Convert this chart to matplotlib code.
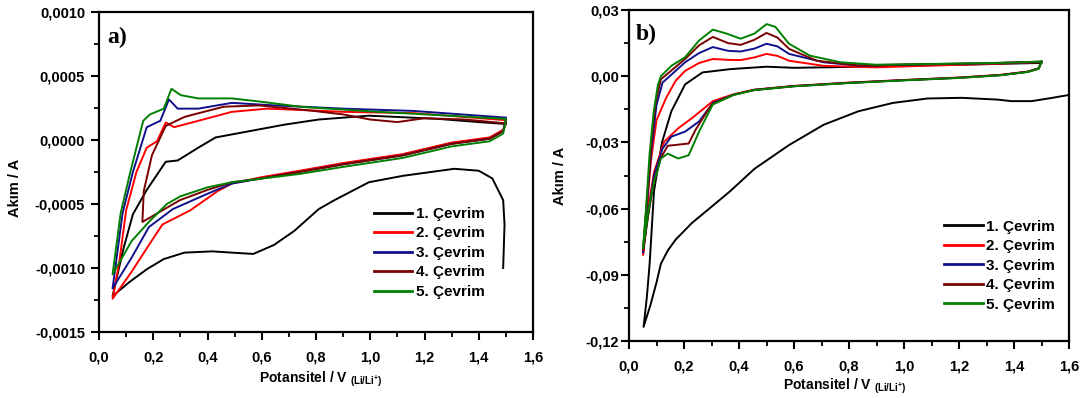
import matplotlib
matplotlib.use("Agg")
import matplotlib.pyplot as plt
from matplotlib.ticker import MultipleLocator, FuncFormatter

plt.rcParams['font.family'] = ['Liberation Sans', 'DejaVu Sans']
plt.rcParams['font.weight'] = 'bold'
plt.rcParams['mathtext.fontset'] = 'custom'
plt.rcParams['mathtext.rm'] = 'Liberation Sans:bold'
plt.rcParams['mathtext.bf'] = 'Liberation Sans:bold'
plt.rcParams['mathtext.default'] = 'rm'

labels = ["1. Çevrim", "2. Çevrim", "3. Çevrim", "4. Çevrim", "5. Çevrim"]
colors = ["#000000", "#ff0000", "#10108c", "#7a0000", "#008000"]

# ---------------- Panel a data (V, A) ----------------
a1_v = [1.49, 1.495, 1.49, 1.45, 1.40, 1.31, 1.12, 0.995, 0.868, 0.81, 0.72, 0.645, 0.569, 0.49,
        0.417, 0.315, 0.239, 0.176, 0.112, 0.05, 0.09, 0.125, 0.176, 0.246, 0.29, 0.366, 0.43,
        0.557, 0.684, 0.81, 0.995, 1.1, 1.25, 1.4, 1.5]
a1_i = [-0.00100, -0.00066, -0.00047, -0.00030, -0.00024, -0.000225, -0.00028, -0.00033, -0.00047,
        -0.00054, -0.00071, -0.00082, -0.00089, -0.00088, -0.00087, -0.00088, -0.00093, -0.00101,
        -0.00111, -0.00122, -0.00085, -0.00058, -0.00039, -0.00017, -0.00016, -0.00006, 0.00002,
        0.00007, 0.00012, 0.00016, 0.00019, 0.00018, 0.000165, 0.00014, 0.000125]

a2_v = [1.5, 1.49, 1.44, 1.3, 1.12, 0.9, 0.74, 0.6, 0.49, 0.437, 0.336, 0.234, 0.184, 0.12, 0.05,
        0.075, 0.1, 0.138, 0.176, 0.214, 0.246, 0.277, 0.366, 0.49, 0.62, 0.75, 0.9, 1.16, 1.5]
a2_i = [0.00015, 0.00008, 0.00002, -0.00002, -0.00011, -0.00018, -0.00024, -0.00029, -0.00034,
        -0.00040, -0.00055, -0.00066, -0.00082, -0.00103, -0.00124, -0.00095, -0.00055, -0.00025,
        -0.00006, -0.00001, 0.000137, 0.00010, 0.00015, 0.00022, 0.000245, 0.000234, 0.00022,
        0.00021, 0.000155]

a3_v = [1.5, 1.49, 1.44, 1.3, 1.12, 0.9, 0.74, 0.6, 0.49, 0.4, 0.272, 0.184, 0.12, 0.05,
        0.087, 0.125, 0.176, 0.226, 0.258, 0.29, 0.366, 0.49, 0.65, 0.9, 1.16, 1.5]
a3_i = [0.00016, 0.00007, 0.00001, -0.00003, -0.00012, -0.00019, -0.00025, -0.00030, -0.00034,
        -0.00042, -0.00054, -0.00068, -0.00092, -0.00116, -0.00057, -0.00025, 0.00010, 0.00015,
        0.000317, 0.000245, 0.000245, 0.00029, 0.00027, 0.000245, 0.000227, 0.000175]

a4_v = [1.5, 1.35, 1.2, 1.1, 1.0, 0.9, 0.78, 0.59, 0.46, 0.35, 0.315, 0.246, 0.195, 0.165, 0.16,
        0.209, 0.298, 0.4, 0.49, 0.6, 0.74, 0.9, 1.12, 1.3, 1.44, 1.49, 1.5]
a4_i = [0.00013, 0.00016, 0.00017, 0.00014, 0.00016, 0.00020, 0.00023, 0.00027, 0.00026, 0.00020,
        0.00018, 0.00011, -0.00012, -0.00040, -0.00064, -0.00058, -0.00047, -0.00039, -0.00033,
        -0.00030, -0.00025, -0.00019, -0.00012, -0.00003, 0.00001, 0.00007, 0.00013]

a5_v = [1.5, 1.49, 1.44, 1.3, 1.12, 0.9, 0.74, 0.49, 0.40, 0.30, 0.25, 0.184, 0.12, 0.05,
        0.08, 0.112, 0.163, 0.188, 0.239, 0.267, 0.302, 0.366, 0.49, 0.594, 0.75, 1.03, 1.29, 1.5]
a5_i = [0.00016, 0.00005, -0.00001, -0.00005, -0.00014, -0.00021, -0.000265, -0.00033, -0.00037,
        -0.00044, -0.00050, -0.00064, -0.00079, -0.00105, -0.00057, -0.00028, 0.00015, 0.00020,
        0.000245, 0.00040, 0.00035, 0.000325, 0.000325, 0.00030, 0.000258, 0.00022, 0.00019,
        0.000165]

# ---------------- Panel b data (V, A) ----------------
b1_v = [1.6, 1.53, 1.464, 1.39, 1.34, 1.21, 1.086, 0.96, 0.834, 0.708, 0.582, 0.456, 0.368, 0.292,
        0.229, 0.17, 0.141, 0.116, 0.1, 0.078, 0.053, 0.065, 0.075, 0.091, 0.12, 0.154, 0.204,
        0.267, 0.368, 0.5, 0.6, 0.8, 1.0, 1.2, 1.5]
b1_i = [-0.0085, -0.0100, -0.0113, -0.0113, -0.0106, -0.0098, -0.0101, -0.0121, -0.0159, -0.0220,
        -0.0312, -0.0420, -0.0521, -0.0600, -0.0665, -0.0740, -0.0790, -0.0850, -0.0935, -0.1037,
        -0.1136, -0.1000, -0.0850, -0.0520, -0.0300, -0.0159, -0.0037, 0.0017, 0.0032, 0.0043,
        0.0038, 0.0042, 0.0048, 0.0052, 0.0060]

b2_v = [1.5, 1.49, 1.45, 1.35, 1.2, 1.0, 0.8, 0.6, 0.456, 0.38, 0.305, 0.229, 0.179, 0.128, 0.091,
        0.07, 0.051, 0.065, 0.08, 0.1, 0.135, 0.17, 0.204, 0.255, 0.305, 0.36, 0.406, 0.456, 0.5,
        0.54, 0.582, 0.708, 0.897, 1.1, 1.3, 1.5]
b2_i = [0.0066, 0.0036, 0.0021, 0.0006, -0.0006, -0.0017, -0.0029, -0.0044, -0.0061, -0.0082,
        -0.0113, -0.0190, -0.0236, -0.0297, -0.0435, -0.0600, -0.0810, -0.0600, -0.0380, -0.0200,
        -0.0098, -0.0020, 0.0024, 0.0060, 0.0078, 0.0074, 0.0073, 0.0085, 0.0101, 0.0092, 0.0070,
        0.0047, 0.0040, 0.0048, 0.0055, 0.0064]

b3_v = [1.5, 1.49, 1.45, 1.35, 1.2, 1.0, 0.8, 0.6, 0.456, 0.38, 0.305, 0.255, 0.204, 0.154, 0.122,
        0.091, 0.07, 0.051, 0.065, 0.08, 0.1, 0.122, 0.204, 0.255, 0.305, 0.36, 0.406, 0.456, 0.5,
        0.54, 0.582, 0.708, 0.834, 1.0, 1.3, 1.5]
b3_i = [0.0066, 0.0035, 0.0020, 0.0005, -0.0007, -0.0018, -0.0030, -0.0045, -0.0062, -0.0084,
        -0.0121, -0.0205, -0.0251, -0.0274, -0.0328, -0.0450, -0.0620, -0.0800, -0.0580, -0.0350,
        -0.0130, -0.0029, 0.0063, 0.0105, 0.0132, 0.0115, 0.0112, 0.0125, 0.0147, 0.0135, 0.0101,
        0.0063, 0.0048, 0.0052, 0.0058, 0.0065]

b4_v = [1.5, 1.49, 1.45, 1.35, 1.2, 1.0, 0.8, 0.6, 0.456, 0.38, 0.305, 0.292, 0.242, 0.217, 0.166,
        0.141, 0.116, 0.09, 0.07, 0.051, 0.064, 0.078, 0.095, 0.116, 0.204, 0.255, 0.305, 0.36,
        0.406, 0.456, 0.5, 0.54, 0.582, 0.683, 0.834, 1.0, 1.3, 1.5]
b4_i = [0.0066, 0.0035, 0.0020, 0.0005, -0.0007, -0.0018, -0.0030, -0.0045, -0.0062, -0.0084,
        -0.0125, -0.0144, -0.0243, -0.0305, -0.0312, -0.0315, -0.0370, -0.0480, -0.0630, -0.0790,
        -0.0580, -0.0350, -0.0130, -0.0014, 0.0078, 0.0140, 0.0178, 0.0150, 0.0142, 0.0165,
        0.0196, 0.0175, 0.0124, 0.0070, 0.0049, 0.0053, 0.0059, 0.0066]

b5_v = [1.5, 1.49, 1.45, 1.35, 1.2, 1.0, 0.8, 0.6, 0.456, 0.38, 0.305, 0.292, 0.255, 0.217, 0.179,
        0.141, 0.116, 0.091, 0.072, 0.051, 0.062, 0.075, 0.09, 0.105, 0.116, 0.154, 0.204, 0.255,
        0.305, 0.355, 0.406, 0.456, 0.5, 0.532, 0.582, 0.658, 0.77, 0.897, 1.086, 1.34, 1.5]
b5_i = [0.0066, 0.0034, 0.0019, 0.0004, -0.0008, -0.0019, -0.0031, -0.0046, -0.0063, -0.0085,
        -0.0128, -0.0159, -0.0251, -0.0358, -0.0373, -0.0351, -0.0373, -0.0480, -0.0600, -0.0780,
        -0.0600, -0.0350, -0.0160, -0.0040, 0.0000, 0.0047, 0.0086, 0.0162, 0.0211, 0.0193,
        0.0170, 0.0193, 0.0236, 0.0224, 0.0147, 0.0093, 0.0063, 0.0052, 0.0055, 0.0060, 0.0066]

panel_a = [(a1_v, a1_i), (a2_v, a2_i), (a3_v, a3_i), (a4_v, a4_i), (a5_v, a5_i)]
panel_b = [(b1_v, b1_i), (b2_v, b2_i), (b3_v, b3_i), (b4_v, b4_i), (b5_v, b5_i)]

fig = plt.figure(figsize=(10.89, 3.98), dpi=100)
ax_a = fig.add_axes([99 / 1089, 1 - 332 / 398, 434 / 1089, 320 / 398])
ax_b = fig.add_axes([629 / 1089, 1 - 341 / 398, 440 / 1089, 331 / 398])


def comma(fmt):
    return FuncFormatter(lambda v, p: (fmt % v).replace('.', ',').replace('-0,0000', '0,0000'))


def style(ax, ypad):
    for s in ax.spines.values():
        s.set_linewidth(1.6)
    ax.tick_params(which='major', direction='out', length=6, width=1.5, labelsize=10.5,
                   top=False, right=False)
    ax.tick_params(axis='y', which='major', pad=ypad)
    ax.tick_params(axis='x', which='major', pad=7)
    ax.tick_params(which='minor', direction='out', length=3.5, width=1.3, top=False, right=False)
    ax.set_xlim(0, 1.6)
    ax.xaxis.set_major_locator(MultipleLocator(0.2))
    ax.xaxis.set_minor_locator(MultipleLocator(0.1))
    ax.xaxis.set_major_formatter(comma('%.1f'))
    for lab in ax.get_xticklabels() + ax.get_yticklabels():
        lab.set_fontweight('bold')


for (v, i), c, lab in zip(panel_a, colors, labels):
    ax_a.plot(v, i, color=c, lw=1.4, label=lab)
ax_a.set_ylim(-0.0015, 0.0010)
ax_a.yaxis.set_major_locator(MultipleLocator(0.0005))
ax_a.yaxis.set_minor_locator(MultipleLocator(0.00025))
ax_a.yaxis.set_major_formatter(comma('%.4f'))
style(ax_a, 4)

for (v, i), c, lab in zip(panel_b, colors, labels):
    ax_b.plot(v, i, color=c, lw=1.4, label=lab)
ax_b.set_ylim(-0.12, 0.03)
ax_b.yaxis.set_major_locator(MultipleLocator(0.03))
ax_b.yaxis.set_minor_locator(MultipleLocator(0.015))
ax_b.yaxis.set_major_formatter(comma('%.2f'))
style(ax_b, 1)

for ax, xl, yl, lx, ly, tag, tx, ty, lgx, lgy in [
        (ax_a, 0.51, -0.118, -0.177, 0.45, 'a)', 0.018, 0.92, 0.633, 0.247),
        (ax_b, 0.49, -0.108, -0.141, 0.5, 'b)', 0.016, 0.927, 0.717, 0.228)]:
    ax.set_xlabel('Potansitel / V $_{\\mathregular{(Li/Li^{+})}}$', fontsize=10, fontweight='bold')
    ax.set_ylabel('Akım / A', fontsize=10.5, fontweight='bold')
    ax.xaxis.set_label_coords(xl, yl)
    ax.yaxis.set_label_coords(lx, ly)
    ax.text(tx, ty, tag, transform=ax.transAxes, family='Liberation Serif', fontweight='bold',
            fontsize=17, va='center', ha='left')
    leg = ax.legend(loc='center left', bbox_to_anchor=(lgx, lgy), frameon=False, fontsize=11,
                    handlelength=2.5, handletextpad=0.25, labelspacing=0.36, borderpad=0,
                    borderaxespad=0)
    for line in leg.get_lines():
        line.set_linewidth(2.0)

fig.savefig('out.png', dpi=100)
